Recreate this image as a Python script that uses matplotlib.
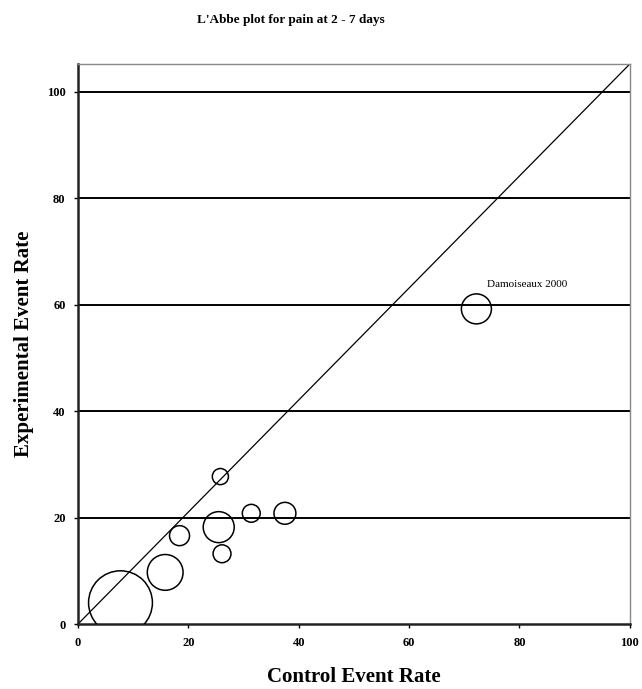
import numpy as np
from matplotlib import pyplot as plt

# dados (taxas de evento em %)
controle = [7.7, 15.8, 18.4, 25.5, 26.1, 31.4, 37.5, 25.8, 72.2]
experimental = [4.0, 9.7, 16.6, 18.2, 13.2, 20.8, 20.8, 27.7, 59.2]
peso = [102, 32, 10, 24, 8, 8, 12, 6.5, 22.5]  # tamanho relativo dos estudos
rotulo_estudo = "Damoiseaux 2000"
pos_rotulo = (74.2, 63.7)
ticks = [0, 20, 40, 60, 80, 100]

dpi = 100
fig = plt.figure(figsize=(6.42, 6.89), dpi=dpi)
ax = fig.add_axes([0.1215, 0.0943, 0.8595, 0.8128])
serif = ["Liberation Serif", "DejaVu Serif"]

# linhas de grade horizontais
for t in ticks[1:]:
    ax.axhline(t, color="black", linewidth=1.4, zorder=1)

# linha diagonal de canto a canto
ax.plot([0, 1], [0, 1], transform=ax.transAxes, color="black", linewidth=0.9, zorder=2)

# bolhas: raio em pixels ~ sqrt(10*peso)
raio_px = np.sqrt(np.array(peso) * 10)
s = (2 * raio_px * 72 / dpi) ** 2
ax.scatter(controle, experimental, s=s, facecolors="none", edgecolors="black",
           linewidths=1.1, zorder=3)

ax.text(pos_rotulo[0], pos_rotulo[1], rotulo_estudo, fontsize=8, family=serif,
        ha="left", va="center")

ax.set_xlim(0, 100)
ax.set_ylim(0, 105.2)
ax.set_xticks(ticks)
ax.set_yticks(ticks)
ax.set_xticklabels([str(t) for t in ticks], family=serif, fontsize=9, fontweight="bold")
ax.set_yticklabels([str(t) for t in ticks], family=serif, fontsize=9, fontweight="bold")
ax.tick_params(direction="out", length=3, width=1, pad=6)

for lado in ["left", "bottom"]:
    ax.spines[lado].set_linewidth(1.8)
    ax.spines[lado].set_color("#222222")
for lado in ["top", "right"]:
    ax.spines[lado].set_linewidth(1.0)
    ax.spines[lado].set_color("#888888")

ax.set_xlabel("Control Event Rate", family=serif, fontsize=15, fontweight="bold", labelpad=13)
ax.set_ylabel("Experimental Event Rate", family=serif, fontsize=15, fontweight="bold", labelpad=9)
fig.text(0.453, 0.971, "L'Abbe plot for pain at 2 - 7 days", family=serif, fontsize=9.5,
         fontweight="bold", ha="center", va="center")

plt.savefig("out.png", dpi=dpi)
plt.close()
